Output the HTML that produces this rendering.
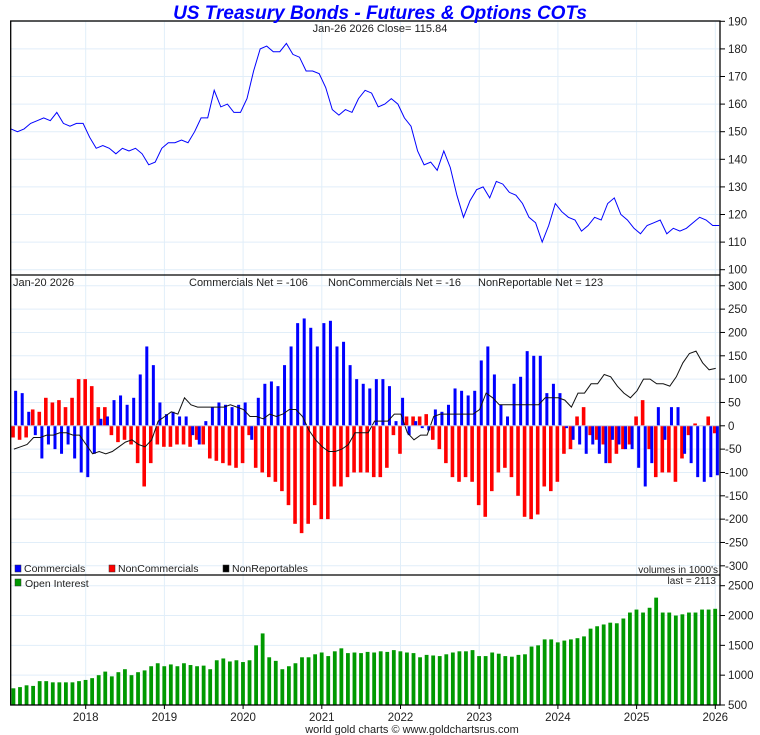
<!DOCTYPE html>
<html><head><meta charset="utf-8"><style>
body{margin:0;background:#fff;width:760px;height:735px;overflow:hidden}
svg{display:block;font-family:"Liberation Sans",sans-serif}
</style></head><body>
<svg id="c" width="760" height="735" viewBox="0 0 760 735"></svg>
<script>
// ---- data (monthly, starting Jan 2017) ----
const priceValues=[151,150,151,153,154,155,154,157,153,152,153,153,
148,144,145,144,142,144,143,144,142,138,139,144,
146,146,147,146,150,155,155,165,159,160,157,157,
162,172,180,181,179,179,182,178,177,172,172,171,
166,158,156,158,157,162,165,164,159,160,162,160,
155,152,143,138,139,136,143,137,127,119,125,129,
130,126,132,131,128,127,124,119,117,110,116,124,
121,119,118,114,116,119,118,124,126,120,118,115,
113,116,117,118,113,115,114,115,117,119,118,116,116];
const commercials=[75,70,30,-20,-70,-40,-50,-60,-40,-70,-100,-110,
-60,15,20,55,65,45,60,110,170,130,50,25,
30,20,20,-20,-40,10,40,50,45,40,45,50,
-30,60,90,95,85,130,170,220,230,210,170,220,
225,170,180,130,100,90,80,100,100,85,10,60,
-20,10,-5,-10,35,30,45,80,75,65,75,140,
170,110,45,20,90,105,160,150,150,70,90,70,
-5,-30,-40,-60,-40,-60,-80,-30,-40,-50,-50,-90,
-130,-80,40,-30,40,40,-60,-80,-110,-120,-110,-106];
const nonCommercials=[-25,-30,-25,35,30,60,50,55,40,60,100,100,
85,40,40,-20,-35,-30,-40,-80,-130,-80,-40,-45,
-45,-40,-40,-45,-30,-40,-70,-75,-80,-85,-90,-80,
-20,-90,-100,-110,-120,-140,-170,-210,-230,-210,-170,-200,
-200,-130,-130,-110,-100,-100,-100,-110,-110,-90,-20,-60,
20,20,20,25,-30,-50,-80,-110,-120,-110,-120,-170,
-195,-140,-100,-90,-110,-150,-195,-200,-190,-130,-140,-120,
-60,-50,20,40,-20,-30,-40,-80,-60,-50,-40,20,
55,-50,-110,-100,-100,-120,-70,-20,5,0,20,-16];
const nonReportables=[-50,-45,-40,-25,-25,-20,-20,-15,-15,-20,-20,-40,
-60,-55,-60,-55,-45,-35,-30,-40,-45,-30,10,20,
30,25,60,45,40,40,40,40,40,45,40,35,
20,20,15,25,20,25,35,35,20,-10,-30,-45,
-55,-55,-50,-40,-15,-15,-15,10,10,10,25,25,
-15,-30,-20,-20,20,25,25,25,25,25,25,35,
70,60,45,45,45,45,45,45,45,60,60,60,
55,40,70,70,90,90,110,105,85,70,60,75,
100,100,90,90,85,105,135,155,160,135,120,123];
const openInterest=[780,800,830,820,900,900,880,880,880,880,900,920,
950,1000,1060,980,1050,1100,1000,1050,1080,1150,1200,1150,
1180,1150,1200,1170,1150,1160,1100,1250,1280,1230,1250,1220,
1250,1500,1700,1300,1240,1100,1150,1200,1300,1300,1350,1380,
1320,1400,1450,1370,1380,1370,1390,1380,1400,1390,1420,1400,
1380,1370,1300,1340,1330,1320,1350,1380,1400,1400,1420,1320,
1320,1380,1360,1320,1310,1340,1350,1480,1500,1600,1600,1550,
1580,1600,1620,1650,1780,1820,1850,1880,1870,1950,2050,2100,
2050,2130,2300,2050,2050,2000,2020,2050,2050,2100,2100,2113];
const yearLabels=[2018,2019,2020,2021,2022,2023,2024,2025,2026];
const priceTicks=[190,180,170,160,150,140,130,120,110,100];
const cotTicks=[300,250,200,150,100,50,0,-50,-100,-150,-200,-250,-300];
const oiTicks=[2500,2000,1500,1000,500];

// ---- scales ----
const L=10.7,R=720;
const xYear=y=>85.7+(y-2018)*78.7;
const xIdx=i=>xYear(2017.05+i/12);
const yPrice=v=>21.3+(190-v)*2.76;
const yCot=v=>425.8-v*0.4667;
const yOI=v=>705-(v-500)*0.05965;

const svg=document.getElementById('c');
const NS='http://www.w3.org/2000/svg';
function mk(tag,attrs,parent){const e=document.createElementNS(NS,tag);for(const k in attrs)e.setAttribute(k,attrs[k]);(parent||svg).appendChild(e);return e;}
function txt(x,y,s,size,anchor,fill){const t=mk('text',{x:x,y:y,'font-size':size,'text-anchor':anchor||'start',fill:fill||'#222'});t.textContent=s;return t;}

// grids
const grid=mk('g',{stroke:'#e1eef9','stroke-width':1});


yearLabels.forEach(y=>{mk('line',{x1:xYear(y),x2:xYear(y),y1:21,y2:705},grid);});
priceTicks.forEach(v=>mk('line',{x1:L,x2:R,y1:yPrice(v),y2:yPrice(v)},grid));
cotTicks.forEach(v=>mk('line',{x1:L,x2:R,y1:yCot(v),y2:yCot(v)},grid));
oiTicks.forEach(v=>mk('line',{x1:L,x2:R,y1:yOI(v),y2:yOI(v)},grid));

// price line
let d='';priceValues.forEach((v,i)=>{d+=(i?'L':'M')+xIdx(i).toFixed(1)+' '+yPrice(v).toFixed(1);});
const pl=mk('path',{d:d,fill:'none',stroke:'#0000ff','stroke-width':1});



// COT bars
const bw=3.6;
const gnc=mk('g',{fill:'#ff0000'});


nonCommercials.forEach((v,i)=>{const y0=yCot(0),y1=yCot(v);const r=mk('rect',{x:xIdx(i)+0.3,y:Math.min(y0,y1),width:bw,height:Math.abs(y1-y0)},gnc);

});
const gc=mk('g',{fill:'#0000ff'});


commercials.forEach((v,i)=>{const y0=yCot(0),y1=yCot(v);const r=mk('rect',{x:xIdx(i)+3.2,y:Math.min(y0,y1),width:bw-0.6,height:Math.abs(y1-y0)},gc);

});
d='';nonReportables.forEach((v,i)=>{d+=(i?'L':'M')+(xIdx(i)+3).toFixed(1)+' '+yCot(v).toFixed(1);});
const nrl=mk('path',{d:d,fill:'none',stroke:'#111','stroke-width':1});


mk('line',{x1:L,x2:R,y1:yCot(0),y2:yCot(0),stroke:'#ccd','stroke-width':1});

// OI bars
const go=mk('g',{fill:'#009900'});


openInterest.forEach((v,i)=>{const r=mk('rect',{x:xIdx(i)+0.6,y:yOI(v),width:3.8,height:705-yOI(v)},go);

});

// frames
mk('rect',{x:L,y:21,width:R-L,height:684,fill:'none',stroke:'#000','stroke-width':1.3});
mk('line',{x1:L,x2:R,y1:275,y2:275,stroke:'#000','stroke-width':1.3});
mk('line',{x1:L,x2:R,y1:575,y2:575,stroke:'#000','stroke-width':1.3});

// right axis ticks/labels
const ax=mk('g',{});


priceTicks.forEach(v=>{mk('line',{x1:R,x2:R+5,y1:yPrice(v),y2:yPrice(v),stroke:'#000'},ax);txt(728,yPrice(v)+4,String(v),11.5);});
cotTicks.forEach(v=>{mk('line',{x1:R,x2:R+5,y1:yCot(v),y2:yCot(v),stroke:'#000'},ax);txt(v<0?725:728,yCot(v)+4,String(v),11.5);});
oiTicks.forEach(v=>{mk('line',{x1:R,x2:R+5,y1:yOI(v),y2:yOI(v),stroke:'#000'},ax);txt(728,yOI(v)+4,String(v),11.5);});
yearLabels.forEach(y=>{mk('line',{x1:xYear(y),x2:xYear(y),y1:705,y2:709,stroke:'#000'},ax);txt(xYear(y),721,String(y),11.5,'middle');});

// text
let t=txt(380,19,'US Treasury Bonds - Futures & Options COTs',19,'middle','#0000ff');t.setAttribute('font-weight','bold');t.setAttribute('font-style','italic');


t=txt(380,32,'Jan-26  2026   Close= 115.84',11,'middle');t.setAttribute('xml:space','preserve');
txt(13,286,'Jan-20  2026',11).setAttribute('xml:space','preserve');
txt(189,286,'Commercials Net = -106',11);
txt(328,286,'NonCommercials Net = -16',11);
txt(478,286,'NonReportable Net = 123',11);
const lg=[['#0000ff','Commercials',15],['#ff0000','NonCommercials',109],['#000','NonReportables',223]];
lg.forEach(l=>{const r=mk('rect',{x:l[2],y:565,width:6,height:7,fill:l[0],stroke:'#333','stroke-width':0.5});


txt(l[2]+9,572,l[1],10.5);});
txt(718,573,"volumes in 1000's",10,'end');
txt(716,584,'last = 2113',10,'end');
mk('rect',{x:15,y:579,width:6,height:7,fill:'#009900',stroke:'#333','stroke-width':0.5});
txt(25,587,'Open Interest',10.5);
txt(412,733,'world gold charts © www.goldchartsrus.com',11,'middle');
</script>
</body></html>
